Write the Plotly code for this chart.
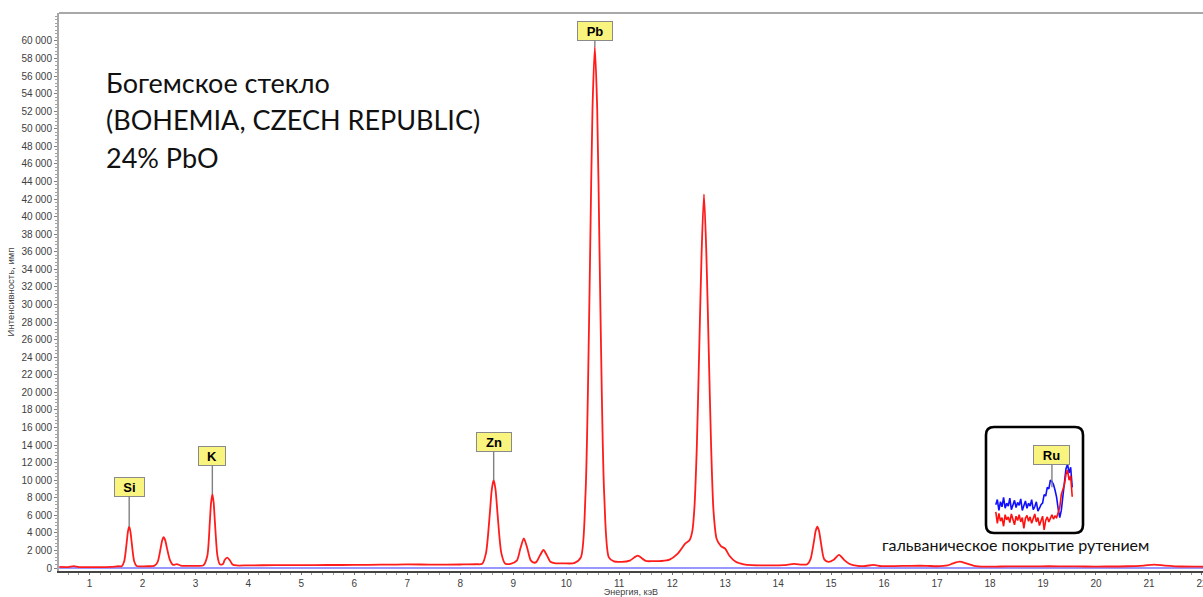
import plotly.graph_objects as go
import numpy as np

# Main XRF spectrum (energy, keV -> counts)
energy_kev = [
    0.43, 0.60, 0.70, 0.80, 1.00, 1.20, 1.40, 1.55,
    1.61, 1.656, 1.703, 1.727, 1.75, 1.773, 1.797, 1.844, 1.89, 1.95, 2.10, 2.22,
    2.284, 2.342, 2.371, 2.40, 2.43, 2.46, 2.52, 2.58, 2.65, 2.72, 2.85, 3.00, 3.15,
    3.224, 3.272, 3.296, 3.32, 3.344, 3.368, 3.416, 3.46, 3.52,
    3.55, 3.60, 3.65, 3.70, 3.78, 4.0, 4.5, 5.0, 5.5, 6.0, 6.5, 7.0, 7.5, 8.0, 8.3,
    8.414, 8.486, 8.558, 8.594, 8.63, 8.666, 8.702, 8.774, 8.846, 8.95,
    9.07, 9.135, 9.20, 9.265, 9.33, 9.40,
    9.44, 9.505, 9.57, 9.635, 9.70, 9.80, 9.95, 10.15,
    10.276, 10.364, 10.408, 10.452, 10.496, 10.54, 10.584, 10.628, 10.672, 10.716, 10.804,
    10.90, 11.05, 11.20, 11.35, 11.50, 11.65, 11.80, 11.95, 12.10, 12.25,
    12.33, 12.38, 12.42, 12.465, 12.51, 12.555, 12.60, 12.645, 12.69, 12.735, 12.78,
    12.84, 12.92, 13.00, 13.08, 13.20, 13.35, 13.50, 13.80, 14.10, 14.30, 14.45, 14.55,
    14.61, 14.675, 14.708, 14.74, 14.772, 14.805, 14.87, 14.95, 15.05, 15.15, 15.25, 15.35,
    15.50, 15.65, 15.80, 15.95, 16.2, 16.5, 16.8, 17.0, 17.2, 17.3, 17.43, 17.55, 17.7,
    17.9, 18.2, 18.5, 18.8, 19.1, 19.5, 19.8, 20.2, 20.6, 20.9, 21.1, 21.3, 21.6, 22.05,
]
counts = [
    120, 110, 220, 110, 100, 100, 130, 200,
    200, 770, 2910, 4165, 4700, 4165, 2910, 770, 220, 180, 200, 240,
    645, 2200, 3110, 3500, 3150, 2350, 900, 350, 450, 280, 250, 250, 300,
    1370, 5220, 7460, 8420, 7460, 5220, 1370, 420, 450,
    880, 1180, 880, 400, 290, 300, 320, 330, 340, 350, 380, 420, 380, 400, 430,
    480, 1720, 6250, 8890, 10020, 8890, 6250, 1720, 520, 470,
    870, 2240, 3380, 2240, 870, 600,
    710, 1440, 2050, 1440, 710, 530, 530, 560,
    1210, 8480, 19640, 36190, 52360, 59300, 52360, 36190, 19640, 8480, 1210,
    750, 700, 850, 1400, 800, 780, 800, 950, 1600, 2800,
    3200, 4200, 6900, 13800, 24800, 35800, 42540, 35800, 24800, 13800, 6500,
    3300, 2500, 2200, 1400, 700, 420, 320, 300, 320, 480, 380, 420,
    980, 3010, 4200, 4700, 4200, 3010, 980, 700, 950, 1500, 900, 450,
    230, 230, 350, 220, 220, 250, 250, 200, 300, 520, 720, 520, 250,
    160, 170, 180, 180, 200, 180, 170, 170, 200, 280, 380, 280, 170, 160,
]

# Second (blue) spectrum of the main view sits on zero
blue_energy = [0.43, 22.05]
blue_counts = [0, 0]

# Axis ticks
y_ticks = list(range(0, 60001, 2000))
x_ticks = list(range(1, 23))

# Peak labels
peak_names = ["Si", "K", "Zn", "Pb"]
peak_energy = [1.75, 3.32, 8.63, 10.54]

# Inset: ruthenium plating region, two spectra
inset_blue = [38, 45, 30, 42, 35, 48, 33, 40, 36, 47, 31, 39, 44, 34, 41, 37, 46, 30, 38, 43,
              33, 40, 36, 45, 31, 35, 42, 29, 33, 38, 40, 52, 50, 62, 60, 72, 70, 66, 58, 48,
              32, 20, 30, 50, 75, 88, 94, 82, 90, 62]
inset_red = [28, 12, 26, 15, 20, 8, 24, 17, 21, 13, 25, 18, 10, 22, 16, 24, 14, 20, 5, 19,
             23, 15, 21, 12, 18, 25, 14, 20, 9, 17, 22, 3, 16, 21, 14, 19, 24, 18, 22, 20,
             26, 34, 52, 58, 66, 80, 86, 72, 78, 49]
inset_energy = np.round(18.70 + 0.02 * np.arange(len(inset_blue)), 2)
ru_energy = 19.42

# Page geometry (pixels)
W, H = 1203, 597
ML, MR, MT, MB = 59, 0, 13, 26
PW, PH = W - ML - MR, H - MT - MB


def px(xp):
    return (xp - ML) / PW


def py(yp):
    return (H - MB - yp) / PH


fig = go.Figure()

fig.add_trace(go.Scatter(
    x=blue_energy, y=blue_counts, mode="lines",
    line=dict(color="#7474ff", width=1.3), hoverinfo="skip", showlegend=False))
fig.add_trace(go.Scatter(
    x=energy_kev, y=counts, mode="lines",
    line=dict(color="rgb(255,28,28)", width=1.8, shape="spline", smoothing=0.7),
    showlegend=False))

# Inset traces
fig.add_trace(go.Scatter(
    x=inset_energy, y=inset_blue, mode="lines", xaxis="x2", yaxis="y2",
    line=dict(color="#1010ff", width=1.6), showlegend=False))
fig.add_trace(go.Scatter(
    x=inset_energy, y=inset_red, mode="lines", xaxis="x2", yaxis="y2",
    line=dict(color="#ff1010", width=1.6), showlegend=False))

label_font = dict(family="Liberation Sans", size=13, color="black")
box_w = {"Si": 27, "K": 24, "Zn": 32, "Pb": 32, "Ru": 33}
offsets = {"Si": -40, "K": -38, "Zn": -38, "Pb": -16}

annotations = []
e_arr = np.array(energy_kev)
for name, e in zip(peak_names, peak_energy):
    idx = int(np.argmin(np.abs(e_arr - e)))
    annotations.append(dict(
        x=energy_kev[idx], y=counts[idx], xref="x", yref="y",
        text="<b>%s</b>" % name, font=label_font,
        showarrow=True, arrowhead=0, arrowwidth=1.4, arrowcolor="#808080",
        ax=0, ay=offsets[name], standoff=0,
        bgcolor="#f9f47e", bordercolor="#8a8a8a", borderwidth=1, borderpad=1,
        width=box_w[name], height=16))

ru_idx = int(np.argmin(np.abs(inset_energy - ru_energy)))
annotations.append(dict(
    x=float(inset_energy[ru_idx]), y=inset_blue[ru_idx] - 8, xref="x2", yref="y2",
    text="<b>Ru</b>", font=label_font,
    showarrow=True, arrowhead=0, arrowwidth=1.4, arrowcolor="#808080",
    ax=0, ay=-32, standoff=0,
    bgcolor="#f9f47e", bordercolor="#8a8a8a", borderwidth=1, borderpad=1,
    width=box_w["Ru"], height=16))

title_font = dict(family="Lato", size=27, color="#111")
for text, yc in [("Богемское стекло", 82), ("(BOHEMIA, CZECH REPUBLIC)", 120), ("24% PbO", 157)]:
    annotations.append(dict(
        x=px(104), y=py(yc), xref="paper", yref="paper", xanchor="left", yanchor="middle",
        text=text, showarrow=False, font=title_font))

annotations.append(dict(
    x=px(1015), y=py(544), xref="paper", yref="paper", xanchor="center", yanchor="middle",
    text="гальваническое покрытие рутением", showarrow=False,
    font=dict(family="Lato", size=16, color="#111")))

# Rounded frame around the inset
x0, x1 = px(986), px(1083)
y0, y1 = py(533), py(427)
rx, ry = 8 / PW, 8 / PH
frame = (f"M {x0+rx},{y0} L {x1-rx},{y0} Q {x1},{y0} {x1},{y0+ry} "
         f"L {x1},{y1-ry} Q {x1},{y1} {x1-rx},{y1} L {x0+rx},{y1} "
         f"Q {x0},{y1} {x0},{y1-ry} L {x0},{y0+ry} Q {x0},{y0} {x0+rx},{y0} Z")

shapes = [
    dict(type="path", path=frame, xref="paper", yref="paper",
         line=dict(color="black", width=2.6), fillcolor="rgba(0,0,0,0)"),
    dict(type="line", xref="paper", yref="paper", x0=0, x1=1, y0=1, y1=1,
         line=dict(color="#a8a8a8", width=2)),
]

tick_font = dict(family="Liberation Sans", size=10, color="#404040")

fig.update_layout(
    width=W, height=H,
    margin=dict(l=ML, r=MR, t=MT, b=MB, autoexpand=False),
    paper_bgcolor="white", plot_bgcolor="white",
    separators=", ",
    annotations=annotations, shapes=shapes,
    xaxis=dict(
        range=[0.425, 22.02], tickmode="array", tickvals=x_ticks,
        ticklabeloverflow="allow", automargin=False,
        showgrid=False, zeroline=False,
        showline=True, linecolor="#454545", linewidth=2,
        ticks="outside", ticklen=2, tickcolor="#707070",
        minor=dict(dtick=0.2, tick0=0, ticks="outside", ticklen=2, tickcolor="#9a9a9a"),
        tickfont=tick_font,
        title=dict(text="Энергия, кэВ", font=dict(family="Liberation Sans", size=9, color="#404040"),
                   standoff=6),
    ),
    yaxis=dict(
        range=[-341, 63175], tickmode="array", tickvals=y_ticks, tickformat=",d",
        automargin=False,
        showgrid=False, zeroline=False,
        showline=True, linecolor="#a8a8a8", linewidth=2,
        ticks="outside", ticklen=3, tickcolor="#808080",
        minor=dict(dtick=400, ticks="outside", ticklen=2, tickcolor="#a0a0a0"),
        tickfont=tick_font,
        title=dict(text="Интенсивность, имп", font=dict(family="Liberation Sans", size=9.5, color="#404040"),
                   standoff=5),
    ),
    xaxis2=dict(domain=[px(995), px(1073)], range=[18.69, 19.69], anchor="y2",
                visible=False, fixedrange=True),
    yaxis2=dict(domain=[py(532), py(460)], range=[0, 100], anchor="x2",
                visible=False, fixedrange=True),
)

fig.write_html("out.html")
